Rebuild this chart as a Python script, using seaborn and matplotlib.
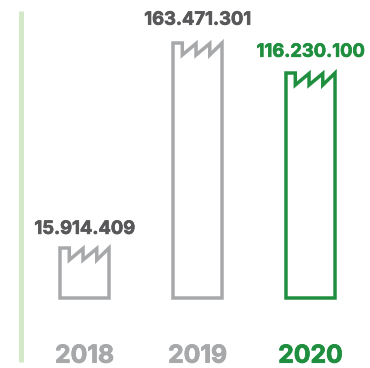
import matplotlib
matplotlib.use("Agg")
import matplotlib.pyplot as plt
import matplotlib.patheffects as pe
import seaborn as sns
from matplotlib.patches import Polygon

years = ["2018", "2019", "2020"]
value_labels = ["15.914.409", "163.471.301", "116.230.100"]
icon_heights = [50, 255, 225]
bar_colors = ["#a7a8aa", "#a7a8aa", "#1f8f3f"]
label_colors = ["#58585a", "#58585a", "#1f8f3f"]
year_colors = ["#a7a8aa", "#a7a8aa", "#1f8f3f"]
label_pad = [7.3, 10.3, 8.8]

sns.set_theme(style="white")
plt.rcParams["font.family"] = ["Inter", "DejaVu Sans"]

W, H = 370, 368
fig = plt.figure(figsize=(W / 100, H / 100), dpi=100)
ax = fig.add_axes([20.5 / W, (H - 362) / H, (W - 20.5) / W, 351 / H])

sns.barplot(x=years, y=icon_heights, hue=years, palette=bar_colors, fill=False,
            width=0.434, dodge=False, legend=False, linewidth=2.5, ax=ax)
ax.set_xlim((20.5 - 84.5) / 113, (W - 84.5) / 113)
ax.set_ylim(-64, 287)

notch = [0.19, 0.47, 0.75]
depth = 12
for patch, color in zip(list(ax.patches), bar_colors):
    x0, y0 = patch.get_x(), patch.get_y()
    w, h = patch.get_width(), patch.get_height()
    top = y0 + h
    pts = [(x0, y0), (x0, top), (x0 + notch[0] * w, top), (x0 + notch[0] * w, top - depth)]
    for a in notch[1:]:
        pts += [(x0 + a * w, top - 0.5), (x0 + a * w, top - depth)]
    pts += [(x0 + w, top), (x0 + w, y0)]
    patch.set_visible(False)
    ax.add_patch(Polygon(pts, closed=True, fill=False, edgecolor=color, linewidth=2.5,
                         joinstyle="miter"))

for i, (txt, h, c, p) in enumerate(zip(value_labels, icon_heights, label_colors, label_pad)):
    t = ax.annotate(txt, (i, h), xytext=(0, p), textcoords="offset points", ha="center",
                    va="bottom", fontsize=13.2, fontweight="bold", color=c, annotation_clip=False)
    t.set_path_effects([pe.withStroke(linewidth=0.5, foreground=c)])

ax.set_xticks(range(len(years)))
ax.set_xticklabels(years, fontsize=17.8, fontweight="bold")
for t, c in zip(ax.get_xticklabels(), year_colors):
    t.set_color(c)
    t.set_path_effects([pe.withStroke(linewidth=0.6, foreground=c)])
ax.tick_params(axis="x", length=0, pad=-12.5)
ax.set_yticks([])
ax.set_xlabel("")
ax.set_ylabel("")
for s in ["top", "right", "bottom"]:
    ax.spines[s].set_visible(False)
ax.spines["left"].set_color("#d3e7c9")
ax.spines["left"].set_linewidth(3.6)
ax.spines["left"].set_capstyle("butt")
ax.patch.set_alpha(0)
fig.savefig("out.png", dpi=100)
